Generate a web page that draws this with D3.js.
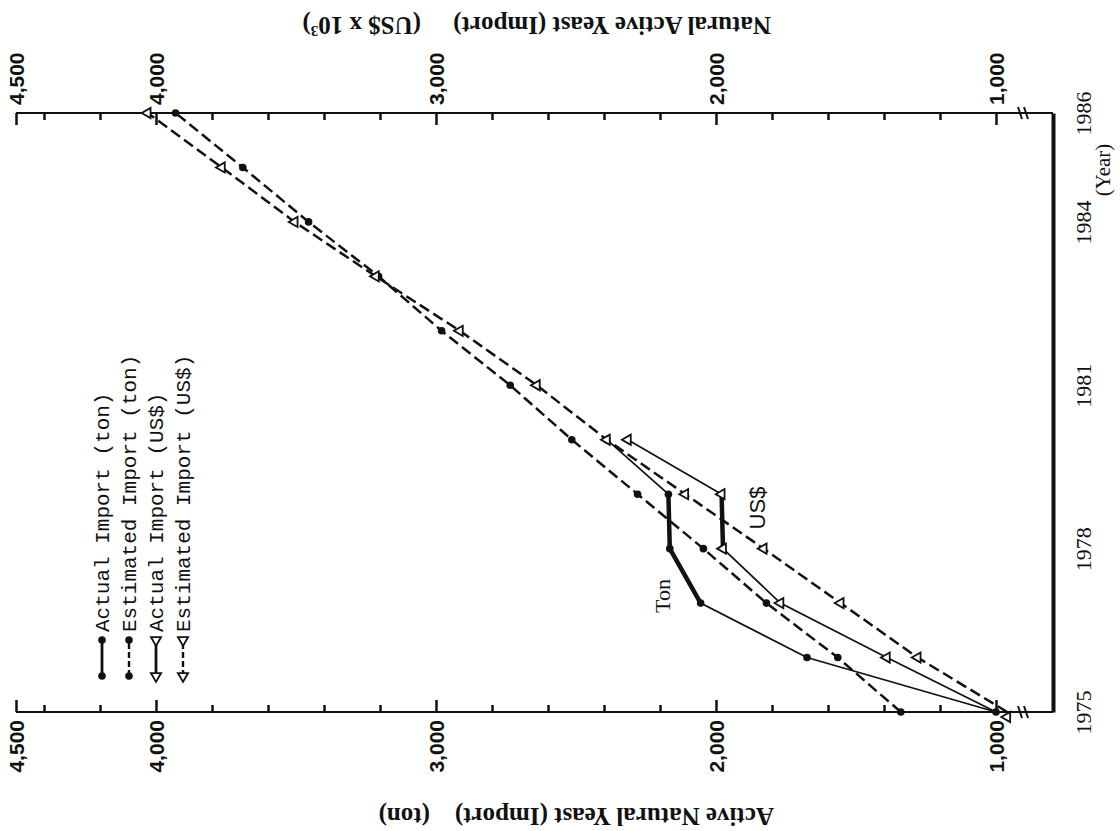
<!DOCTYPE html>
<html>
<head>
<meta charset="utf-8">
<script src="https://cdn.jsdelivr.net/npm/d3@7"></script>
<style>
  body { margin: 0; background: #fff; }
  svg { display: block; }
</style>
</head>
<body>
<svg id="chart" width="1120" height="831"></svg>
<script>
const years = [1975, 1976, 1977, 1978, 1979, 1980, 1981, 1982, 1983, 1984, 1985, 1986];
const actualYears = [1975, 1976, 1977, 1978, 1979, 1980];
const estTon = [1340, 1565, 1820, 2045, 2280, 2515, 2735, 2980, 3205, 3455, 3690, 3930];
const estUsd = [960, 1280, 1555, 1830, 2110, 2390, 2640, 2915, 3215, 3505, 3765, 4030];
const actTon = [1000, 1675, 2055, 2165, 2170, 2390];
const actUsd = [1000, 1390, 1770, 1975, 1980, 2315];

const majorTicks = [1000, 2000, 3000, 4000, 4500];
const minorTicks = [1200, 1400, 1600, 1800, 2200, 2400, 2600, 2800, 3200, 3400, 3600, 3800, 4200, 4400];
const yearTicks = [1975, 1978, 1981, 1984, 1986];
const legendLabels = ["Actual Import (ton)", "Estimated Import (ton)", "Actual Import (US$)", "Estimated Import (US$)"];

const serif = "'Liberation Serif', 'DejaVu Serif', serif";
const mono = "'Liberation Mono', 'DejaVu Sans Mono', monospace";
const sans = "'Liberation Sans', Arial, sans-serif";

const svg = d3.select("#chart");

// chart is printed turned on its side: values run right->left, years bottom->top
const x = d3.scaleLinear().domain([1000, 4500]).range([996, 16]);
const y = d3.scaleLinear().domain([1975, 1986]).range([712, 113]);
const xRight = 1053;

const series = [
    { years: actualYears, values: actTon, dashed: false, marker: "dot", thick: [1977, 1979] },
    { years: years, values: estTon, dashed: true, marker: "dot" },
    { years: actualYears, values: actUsd, dashed: false, marker: "tri", thick: [1978, 1979] },
    { years: years, values: estUsd, dashed: true, marker: "tri" }
];

// value axes (top = US$, bottom = ton), ticks pointing inward
function valueAxis(yPos, dir) {
    svg.append("g")
        .attr("transform", `translate(0,${yPos})`)
        .call(d3.axisBottom(x).tickValues(minorTicks).tickSize(7 * dir).tickFormat(""))
        .call(g => g.select(".domain").remove())
        .selectAll("line").attr("stroke", "#111").attr("stroke-width", 2.5);

    const g = svg.append("g")
        .attr("transform", `translate(0,${yPos})`)
        .call(d3.axisBottom(x).tickValues(majorTicks).tickSize(12 * dir).tickFormat(d3.format(",")));
    g.select(".domain").remove();
    g.selectAll("line").attr("stroke", "#111").attr("stroke-width", 2.5);
    g.selectAll("text")
        .attr("transform", "rotate(-90)")
        .attr("x", dir > 0 ? 8 : -8)
        .attr("y", 0)
        .attr("dy", "0.36em")
        .attr("text-anchor", dir > 0 ? "start" : "end")
        .attr("font-family", sans)
        .attr("font-weight", "bold")
        .attr("font-size", 21)
        .attr("fill", "#111");

    svg.append("line")
        .attr("x1", x(4500)).attr("x2", xRight)
        .attr("y1", yPos).attr("y2", yPos)
        .attr("stroke", "#111").attr("stroke-width", 2);

    // axis break near the origin
    [0, 6].forEach(o => {
        svg.append("line")
            .attr("x1", 1020 + o - 2).attr("x2", 1020 + o + 2)
            .attr("y1", yPos - 6).attr("y2", yPos + 6)
            .attr("stroke", "#111").attr("stroke-width", 2);
    });
}
valueAxis(y(1986), 1);
valueAxis(y(1975), -1);

// year axis
const yearAxis = svg.append("g")
    .attr("transform", `translate(${xRight},0)`)
    .call(d3.axisRight(y).tickValues(yearTicks).tickSize(0).tickSizeOuter(0).tickFormat(d3.format("d")));
yearAxis.select(".domain").attr("stroke", "#111").attr("stroke-width", 4);
yearAxis.selectAll("text")
    .attr("transform", "rotate(-90)")
    .attr("x", 0).attr("y", 38).attr("dy", 0)
    .attr("text-anchor", "middle")
    .attr("font-family", serif)
    .attr("font-size", 22)
    .attr("fill", "#111");

// axis titles
function rotText(tx, ty, angle, str, anchor, size, family, weight) {
    svg.append("text")
        .attr("transform", `translate(${tx},${ty}) rotate(${angle})`)
        .attr("text-anchor", anchor)
        .attr("font-family", family || serif)
        .attr("font-weight", weight || "normal")
        .attr("font-size", size)
        .attr("fill", "#111")
        .text(str);
}
rotText(774, 808, 180, "Active Natural Yeast (Import)", "start", 25, serif, "bold");
rotText(430, 808, 180, "(ton)", "start", 25, serif, "bold");
rotText(771, 17, 180, "Natural Active Yeast (Import)", "start", 25, serif, "bold");
svg.append("text")
    .attr("transform", "translate(421,17) rotate(180)")
    .attr("font-family", serif).attr("font-weight", "bold").attr("font-size", 25).attr("fill", "#111")
    .text("(US$ x 10")
    .append("tspan").attr("dy", -9).attr("font-size", 15).text("3")
    .select(function() { return this.parentNode; })
    .append("tspan").attr("dy", 9).text(")");
rotText(1110, 170, -90, "(Year)", "middle", 21);

// inline series labels
rotText(670, 596, -90, "Ton", "middle", 22);
rotText(765, 508, -90, "US$", "middle", 22, sans);

// series
const line = d3.line().x(d => x(d.v)).y(d => y(d.year));
const tri = d3.symbol().type(d3.symbolTriangle).size(45);

function drawMarker(g, px, py, kind) {
    if (kind === "dot") {
        g.append("circle").attr("cx", px).attr("cy", py).attr("r", 3.8).attr("fill", "#111");
    } else {
        g.append("path").attr("d", tri)
            .attr("transform", `translate(${px},${py}) rotate(-90)`)
            .attr("fill", "#fff").attr("stroke", "#111").attr("stroke-width", 1.8);
    }
}

const plot = svg.append("g");
series.forEach(s => {
    const pts = s.years.map((yr, i) => ({ year: yr, v: s.values[i] }));
    plot.append("path")
        .attr("d", line(pts))
        .attr("fill", "none")
        .attr("stroke", "#111")
        .attr("stroke-width", s.dashed ? 2.5 : 1.7)
        .attr("stroke-dasharray", s.dashed ? "11,5" : null);
    if (s.thick) {
        plot.append("path")
            .attr("d", line(pts.filter(p => p.year >= s.thick[0] && p.year <= s.thick[1])))
            .attr("fill", "none").attr("stroke", "#111").attr("stroke-width", 4.5);
    }
});
series.forEach(s => {
    s.years.forEach((yr, i) => {
        if (s.marker === "dot" || yr > 1975) drawMarker(plot, x(s.values[i]), y(yr), s.marker);
    });
});
// estimated US$ 1975 marker sits just below the ton axis
drawMarker(plot, x(estUsd[0]), y(1975) + 5, "tri");

// legend, rotated like the rest of the figure
const legend = svg.append("g").attr("transform", "translate(102,676) rotate(-90)");
legendLabels.forEach((lab, i) => {
    const s = series[i];
    const row = legend.append("g").attr("transform", `translate(0,${i * 27})`);
    row.append("line")
        .attr("x1", 0).attr("x2", 36).attr("y1", 0).attr("y2", 0)
        .attr("stroke", "#111").attr("stroke-width", s.dashed ? 2.4 : 2.8)
        .attr("stroke-dasharray", s.dashed ? "6,3" : null);
    drawMarker(row, 0, 0, s.marker);
    drawMarker(row, 36, 0, s.marker);
    row.append("text")
        .attr("x", 44).attr("y", 0).attr("dy", "0.35em")
        .attr("font-family", mono).attr("font-size", 21).attr("fill", "#111")
        .text(lab);
});
</script>
</body>
</html>
